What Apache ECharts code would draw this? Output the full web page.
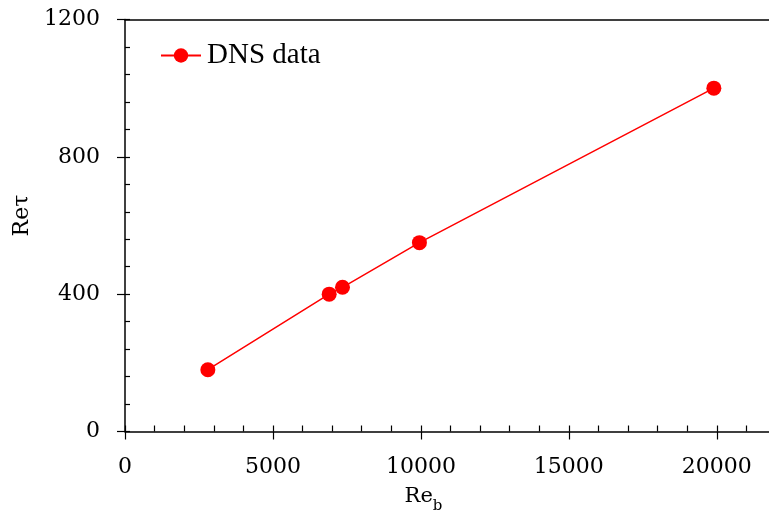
<!DOCTYPE html>
<html>
<head>
<meta charset="utf-8">
<script src="https://cdn.jsdelivr.net/npm/echarts@6/dist/echarts.min.js"></script>
<style>
  html, body { margin: 0; padding: 0; background: #fff; }
  #chart { width: 769px; height: 513px; }
</style>
</head>
<body>
<div id="chart"></div>
<script>
// Bulk Reynolds number vs friction Reynolds number for the DNS cases
const reB = [2800, 6900, 7350, 9950, 19900];
const reTau = [180, 400, 420, 550, 1000];
const xTickLabels = ['0', '5000', '10000', '15000', '20000'];
const yTickLabels = ['0', '400', '800', '1200'];

const seriesName = 'DNS data';
const AX = '#000';
const FONT = 'DejaVu Serif';

const chart = echarts.init(document.getElementById('chart'), null, { renderer: 'canvas' });

const xBase = { type: 'value', min: 0, max: 22000, interval: 5000, gridIndex: 0 };
const yBase = { type: 'value', min: 0, max: 1200, interval: 400, gridIndex: 0 };

chart.setOption({
  animation: false,
  backgroundColor: '#fff',
  // the x range runs a little past the right edge of the canvas
  grid: { left: 125, width: 651, top: 19.5, height: 412, outerBoundsMode: 'none', containLabel: false },
  legend: {
    left: 160, top: 41, padding: 0,
    itemWidth: 40, itemHeight: 18, itemGap: 5,
    data: [seriesName],
    textStyle: { fontFamily: 'Liberation Serif', fontSize: 29, color: '#000', padding: [0, 0, 0, 1] }
  },
  xAxis: [
    Object.assign({}, xBase, {
      position: 'bottom',
      name: 'Re{sub|b}',
      nameLocation: 'middle',
      nameGap: 55,
      nameTextStyle: {
        fontFamily: FONT, fontSize: 21, color: '#000', padding: [0, 54, 0, 0],
        rich: {
          sub: { fontFamily: FONT, fontSize: 15, lineHeight: 15, padding: [12, 0, 0, 0], verticalAlign: 'top' }
        }
      },
      axisLine: { lineStyle: { color: AX, width: 1.5 } },
      axisTick: { inside: true, length: 6, lineStyle: { color: AX, width: 1.2 } },
      minorTick: { show: true, splitNumber: 5, length: 6, lineStyle: { color: AX, width: 1.2 } },
      splitLine: { show: false },
      axisLabel: {
        margin: 25, showMaxLabel: false, fontFamily: FONT, fontSize: 22, color: '#000',
        formatter: v => xTickLabels[v / 5000] || ''
      }
    }),
    Object.assign({}, xBase, {
      position: 'bottom',
      axisLine: { show: false },
      axisTick: { inside: false, length: 8, lineStyle: { color: AX, width: 1.2 } },
      axisLabel: { show: false },
      splitLine: { show: false }
    }),
    Object.assign({}, xBase, {
      position: 'top',
      axisLine: { lineStyle: { color: AX, width: 1.5 } },
      axisTick: { show: false },
      axisLabel: { show: false },
      splitLine: { show: false }
    })
  ],
  yAxis: [
    Object.assign({}, yBase, {
      position: 'left',
      name: 'Reτ',
      nameLocation: 'middle',
      nameGap: 86,
      nameTextStyle: { fontFamily: FONT, fontSize: 22, color: '#000', padding: [0, 0, 0, 20] },
      axisLine: { lineStyle: { color: AX, width: 1.5 } },
      axisTick: { inside: true, length: 5, lineStyle: { color: AX, width: 1.2 } },
      minorTick: { show: true, splitNumber: 5, length: 5, lineStyle: { color: AX, width: 1.2 } },
      splitLine: { show: false },
      axisLabel: {
        margin: 25, fontFamily: FONT, fontSize: 22, color: '#000',
        formatter: v => yTickLabels[v / 400] || ''
      }
    }),
    Object.assign({}, yBase, {
      position: 'left',
      axisLine: { show: false },
      axisTick: { inside: false, length: 8, lineStyle: { color: AX, width: 1.2 } },
      axisLabel: { show: false },
      splitLine: { show: false }
    })
  ],
  series: [{
    name: seriesName,
    type: 'line',
    xAxisIndex: 0,
    yAxisIndex: 0,
    data: reB.map((x, i) => [x, reTau[i]]),
    symbol: 'circle',
    symbolSize: 15,
    showAllSymbol: true,
    itemStyle: { color: '#ff0000' },
    lineStyle: { color: '#ff0000', width: 1.5 }
  }]
});
</script>
</body>
</html>
